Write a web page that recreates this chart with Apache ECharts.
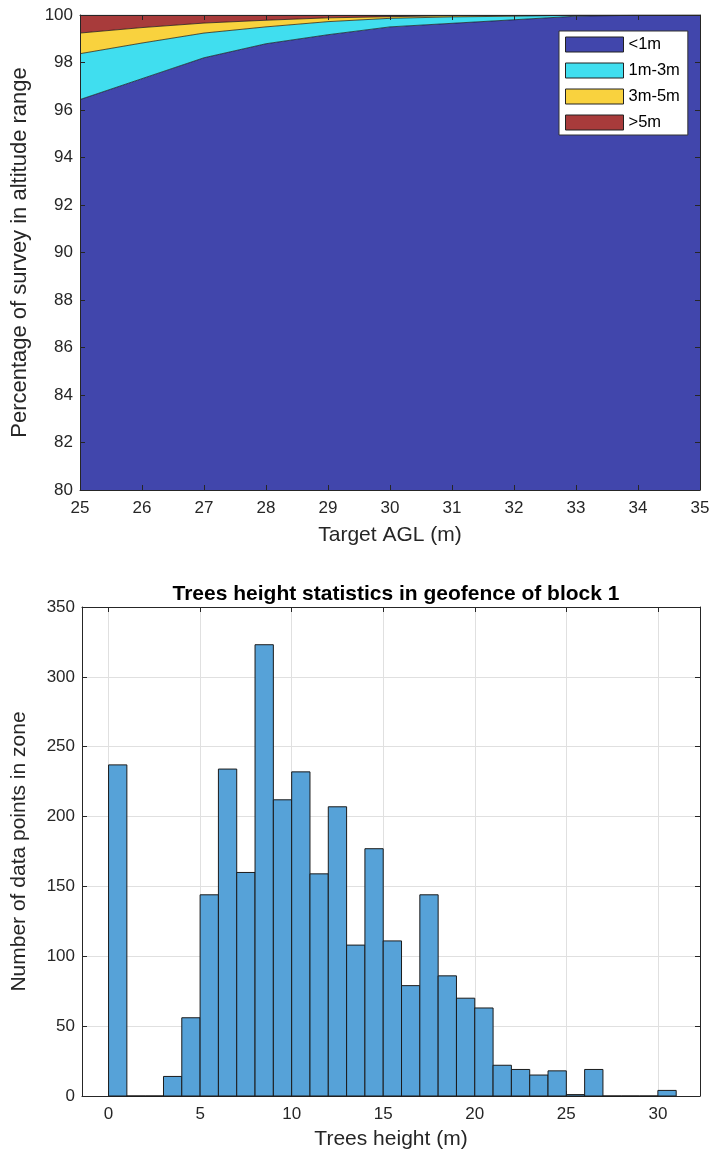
<!DOCTYPE html>
<html><head><meta charset="utf-8">
<script src="https://cdn.jsdelivr.net/npm/echarts@6/dist/echarts.min.js"></script>
<style>html,body{margin:0;padding:0;background:#fff}#c{width:715px;height:1158px}</style>
</head><body><div id="c"></div>
<script>
// ---- Top chart: share of survey per altitude-deviation range ----
const altitudes = ['25', '26', '27', '28', '29', '30', '31', '32', '33', '34', '35'];
const below1m   = [96.44, 97.32, 98.20, 98.79, 99.17, 99.50, 99.65, 99.80, 99.95, 99.99, 100];
const from1to3m = [1.93, 1.50, 1.04, 0.71, 0.55, 0.36, 0.27, 0.15, 0.04, 0.01, 0];
const from3to5m = [0.87, 0.65, 0.42, 0.28, 0.16, 0.07, 0.05, 0.03, 0.01, 0, 0];
const above5m   = [0.76, 0.53, 0.34, 0.22, 0.12, 0.07, 0.03, 0.02, 0, 0, 0];
const rangeNames = ['<1m', '1m-3m', '3m-5m', '>5m'];

// ---- Bottom chart: tree height histogram (bin width 1 m) ----
const binStarts  = [0,1,2,3,4,5,6,7,8,9,10,11,12,13,14,15,16,17,18,19,20,21,22,23,24,25,26,27,28,29,30];
const treeCounts = [237,0,0,14,56,144,234,160,323,212,232,159,207,108,177,111,79,144,86,70,63,22,19,15,18,1,19,0,0,0,4];
const binWidth = 1;
const heightTicks = [0, 5, 10, 15, 20, 25, 30];

const FONT = 'Liberation Sans, Arial, Helvetica, sans-serif';
const AX = '#262626';
const areaColors = ['#4146AC', '#40DEEF', '#F9D23E', '#A83B3B'];
const layers = [below1m, from1to3m, from3to5m, above5m];

const chart = echarts.init(document.getElementById('c'), null, {renderer: 'canvas'});

const areaSeries = layers.map((arr, i) => ({
  name: rangeNames[i], type: 'line', stack: 'survey',
  xAxisIndex: 0, yAxisIndex: 0,
  data: arr,
  showSymbol: false, symbol: 'none',
  lineStyle: {color: '#111', width: 0.7},
  itemStyle: {color: areaColors[i]},
  areaStyle: {color: areaColors[i], opacity: 1},
  emphasis: {disabled: true}, z: 2
}));

const histData = binStarts.map((s, i) => [s, s + binWidth, treeCounts[i]]);

const baseLabel = {fontFamily: FONT, fontSize: 17, color: AX};
const nameStyle = {fontFamily: FONT, fontSize: 21, color: AX};
const frameLine = {show: true, onZero: false, lineStyle: {color: AX, width: 1}};
const inTick = {show: true, inside: true, length: 5, lineStyle: {color: AX}};
const gridLine = {show: true, lineStyle: {color: '#e0e0e0', width: 1}};

chart.setOption({
  animation: false,
  backgroundColor: '#fff',
  title: {
    text: 'Trees height statistics in geofence of block 1',
    left: 391, top: 579, textAlign: 'center',
    textStyle: {fontFamily: FONT, fontSize: 21, fontWeight: 'bold', color: '#000'}
  },
  legend: {
    left: 559, top: 31, orient: 'vertical',
    itemWidth: 58, itemHeight: 15, itemGap: 9,
    padding: [5, 8, 4, 6],
    backgroundColor: '#fff', borderColor: '#333', borderWidth: 1,
    textStyle: {fontFamily: FONT, fontSize: 16.5, color: '#000'},
    icon: 'rect',
    data: rangeNames.map((n, i) => ({name: n, itemStyle: {color: areaColors[i], borderColor: '#222', borderWidth: 1}})),
    selectedMode: false
  },
  grid: [
    {left: 80, top: 15, width: 620, height: 475, containLabel: false, show: false},
    {left: 82, top: 607, width: 618, height: 489, containLabel: false, show: false}
  ],
  xAxis: [
    {type: 'category', gridIndex: 0, data: altitudes, boundaryGap: false, z: 10,
     name: 'Target AGL (m)', nameLocation: 'middle', nameGap: 35, nameTextStyle: nameStyle,
     axisLine: frameLine, axisTick: inTick,
     axisLabel: Object.assign({margin: 10, interval: 0}, baseLabel),
     splitLine: {show: false}},
    {type: 'category', gridIndex: 0, data: altitudes, boundaryGap: false, position: 'top', z: 10,
     axisLine: frameLine, axisTick: inTick,
     axisLabel: {show: false}, splitLine: {show: false}},
    {type: 'value', gridIndex: 1, min: -1.45, max: 32.3, z: 0,
     name: 'Trees height (m)', nameLocation: 'middle', nameGap: 33, nameTextStyle: nameStyle,
     axisLine: frameLine,
     axisTick: Object.assign({customValues: heightTicks}, inTick),
     axisLabel: Object.assign({margin: 10, customValues: heightTicks}, baseLabel),
     splitLine: gridLine},
    {type: 'value', gridIndex: 1, min: -1.45, max: 32.3, position: 'top', z: 0,
     axisLine: frameLine,
     axisTick: Object.assign({customValues: heightTicks}, inTick),
     axisLabel: {show: false}, splitLine: {show: false}}
  ],
  yAxis: [
    {type: 'value', gridIndex: 0, min: 80, max: 100, interval: 2, z: 10,
     name: 'Percentage of survey in altitude range', nameLocation: 'middle', nameGap: 49,
     nameTextStyle: Object.assign({}, nameStyle, {fontSize: 22}),
     axisLine: frameLine, axisTick: inTick,
     axisLabel: Object.assign({margin: 7}, baseLabel),
     splitLine: {show: false}},
    {type: 'value', gridIndex: 0, min: 80, max: 100, interval: 2, position: 'right', z: 10,
     axisLine: frameLine, axisTick: inTick,
     axisLabel: {show: false}, splitLine: {show: false}},
    {type: 'value', gridIndex: 1, min: 0, max: 350, interval: 50, z: 0,
     name: 'Number of data points in zone', nameLocation: 'middle', nameGap: 52, nameTextStyle: nameStyle,
     axisLine: frameLine, axisTick: inTick,
     axisLabel: Object.assign({margin: 7}, baseLabel),
     splitLine: gridLine},
    {type: 'value', gridIndex: 1, min: 0, max: 350, interval: 50, position: 'right', z: 0,
     axisLine: frameLine, axisTick: inTick,
     axisLabel: {show: false}, splitLine: {show: false}}
  ],
  series: areaSeries.concat([{
    type: 'custom', name: 'trees', xAxisIndex: 2, yAxisIndex: 2,
    data: histData, encode: {x: [0, 1], y: 2}, z: 2,
    renderItem: function (params, api) {
      const p0 = api.coord([api.value(0), 0]);
      const p1 = api.coord([api.value(1), api.value(2)]);
      return {
        type: 'rect',
        shape: {x: p0[0], y: p1[1], width: p1[0] - p0[0], height: p0[1] - p1[1]},
        style: {fill: '#56A2D8', stroke: '#1b1b1b', lineWidth: 1}
      };
    }
  }])
});
</script></body></html>
